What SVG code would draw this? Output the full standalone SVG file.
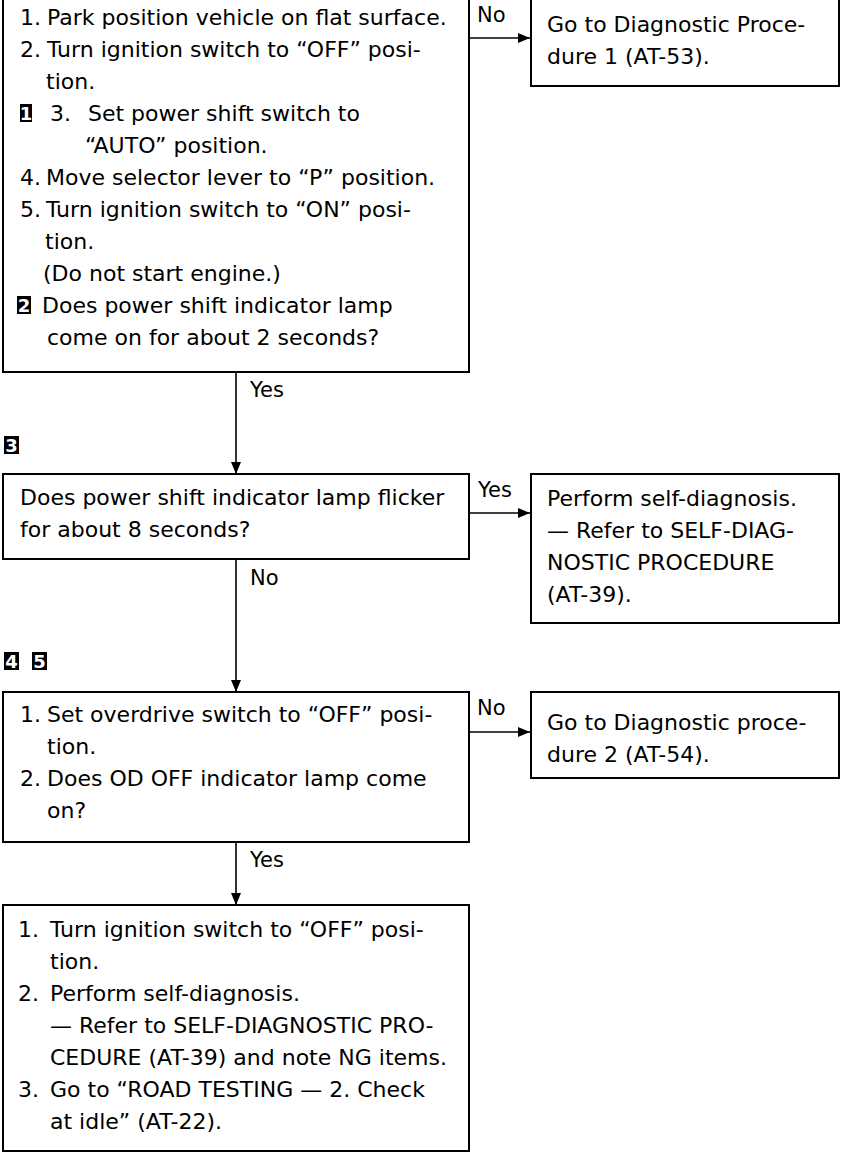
<svg xmlns="http://www.w3.org/2000/svg" width="841" height="1153" viewBox="0 0 841 1153">
<style>
.box{fill:#fff;stroke:#000;stroke-width:2}
.t{font-family:"DejaVu Sans","Liberation Sans",Arial,sans-serif;font-size:22px;fill:#000}
.lbl{font-family:"DejaVu Sans","Liberation Sans",Arial,sans-serif;font-size:21px;fill:#000}
.badge{fill:#000}
.bt{font-family:"DejaVu Sans","Liberation Sans",Arial,sans-serif;font-size:18px;font-weight:bold;fill:#fff;text-anchor:middle}
.conn{stroke:#000;stroke-width:1.6;fill:none}
</style>
<defs>
<marker id="arr" viewBox="0 0 12 10" refX="12" refY="5" markerWidth="12" markerHeight="10" markerUnits="userSpaceOnUse" orient="auto"><path d="M0,0 L12,5 L0,10 z" fill="#000"/></marker>
</defs>
<rect width="841" height="1153" fill="#fff"/>

<g id="connectors">
<path class="conn" d="M469,38 H530" marker-end="url(#arr)"/>
<text class="lbl" x="477" y="22">No</text>
<path class="conn" d="M236,372 V474" marker-end="url(#arr)"/>
<text class="lbl" x="250" y="397">Yes</text>
<path class="conn" d="M469,513 H530" marker-end="url(#arr)"/>
<text class="lbl" x="478" y="497">Yes</text>
<path class="conn" d="M236,559 V692" marker-end="url(#arr)"/>
<text class="lbl" x="250" y="585">No</text>
<path class="conn" d="M469,732 H530" marker-end="url(#arr)"/>
<text class="lbl" x="477" y="715">No</text>
<path class="conn" d="M236,842 V905" marker-end="url(#arr)"/>
<text class="lbl" x="250" y="867">Yes</text>
</g>

<g id="n1">
<rect class="box" x="3" y="-4" width="466" height="376"/>
<text class="t" x="20" y="25">1.</text><text class="t" x="47" y="25">Park position vehicle on flat surface.</text>
<text class="t" x="20" y="57">2.</text><text class="t" x="47" y="57">Turn ignition switch to “OFF” posi-</text>
<text class="t" x="46" y="89">tion.</text>
<rect class="badge" x="20" y="104" width="12" height="18"/><text class="bt" x="26" y="120">1</text>
<text class="t" x="50" y="121">3.</text><text class="t" x="88" y="121">Set power shift switch to</text>
<text class="t" x="85" y="153">“AUTO” position.</text>
<text class="t" x="20" y="185">4.</text><text class="t" x="46" y="185">Move selector lever to “P” position.</text>
<text class="t" x="20" y="217">5.</text><text class="t" x="46" y="217">Turn ignition switch to “ON” posi-</text>
<text class="t" x="45" y="249">tion.</text>
<text class="t" x="43" y="281">(Do not start engine.)</text>
<rect class="badge" x="17" y="296" width="14" height="18"/><text class="bt" x="24" y="312">2</text>
<text class="t" x="42" y="313">Does power shift indicator lamp</text>
<text class="t" x="47" y="345">come on for about 2 seconds?</text>
</g>

<g id="n2">
<rect class="box" x="531" y="-4" width="308" height="90"/>
<text class="t" x="547" y="32">Go to Diagnostic Proce-</text>
<text class="t" x="547" y="64">dure 1 (AT-53).</text>
</g>

<g id="badge3">
<rect class="badge" x="4" y="436" width="15" height="18"/><text class="bt" x="11.5" y="452">3</text>
</g>

<g id="n3">
<rect class="box" x="3" y="474" width="466" height="85"/>
<text class="t" x="20" y="505">Does power shift indicator lamp flicker</text>
<text class="t" x="20" y="537">for about 8 seconds?</text>
</g>

<g id="n4">
<rect class="box" x="531" y="474" width="308" height="149"/>
<text class="t" x="547" y="506">Perform self-diagnosis.</text>
<text class="t" x="547" y="538">— Refer to SELF-DIAG-</text>
<text class="t" x="547" y="570">NOSTIC PROCEDURE</text>
<text class="t" x="547" y="602">(AT-39).</text>
</g>

<g id="badge45">
<rect class="badge" x="4" y="652" width="15" height="18"/><text class="bt" x="11.5" y="668">4</text>
<rect class="badge" x="32" y="652" width="15" height="18"/><text class="bt" x="39.5" y="668">5</text>
</g>

<g id="n5">
<rect class="box" x="3" y="692" width="466" height="150"/>
<text class="t" x="20" y="722">1.</text><text class="t" x="47" y="722">Set overdrive switch to “OFF” posi-</text>
<text class="t" x="47" y="754">tion.</text>
<text class="t" x="20" y="786">2.</text><text class="t" x="47" y="786">Does OD OFF indicator lamp come</text>
<text class="t" x="47" y="818">on?</text>
</g>

<g id="n6">
<rect class="box" x="531" y="692" width="308" height="86"/>
<text class="t" x="547" y="730">Go to Diagnostic proce-</text>
<text class="t" x="547" y="762">dure 2 (AT-54).</text>
</g>

<g id="n7">
<rect class="box" x="3" y="905" width="466" height="246"/>
<text class="t" x="18" y="937">1.</text><text class="t" x="50" y="937">Turn ignition switch to “OFF” posi-</text>
<text class="t" x="50" y="969">tion.</text>
<text class="t" x="18" y="1001">2.</text><text class="t" x="50" y="1001">Perform self-diagnosis.</text>
<text class="t" x="50" y="1033">— Refer to SELF-DIAGNOSTIC PRO-</text>
<text class="t" x="50" y="1065">CEDURE (AT-39) and note NG items.</text>
<text class="t" x="18" y="1097">3.</text><text class="t" x="50" y="1097">Go to “ROAD TESTING — 2. Check</text>
<text class="t" x="50" y="1129">at idle” (AT-22).</text>
</g>
</svg>
